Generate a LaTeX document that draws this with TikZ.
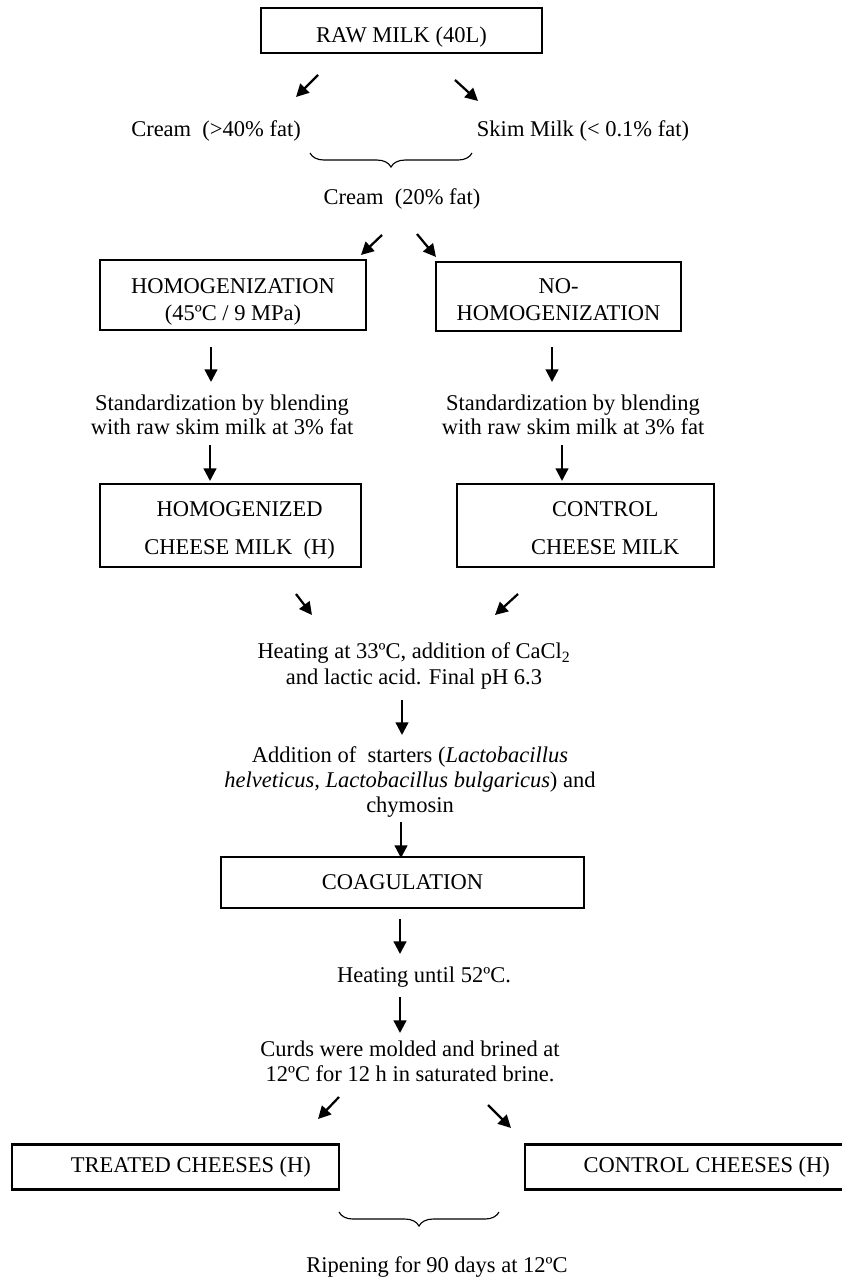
\documentclass[tikz,border=0pt]{standalone}
\usepackage{fontspec}
\setmainfont{Liberation Serif}
\usetikzlibrary{arrows.meta,decorations.pathreplacing}

\begin{document}
\begin{tikzpicture}[x=0.025cm, y=-0.025cm, font=\fontsize{16}{19}\selectfont,
  box/.style={draw, line width=1.6pt, align=center, inner sep=0pt},
  arr/.style={-{Triangle[length=9pt,width=9pt]}, line width=1.6pt},
  brc/.style={decorate, decoration={brace, mirror, amplitude=10pt}, line width=0.8pt}]
  \useasboundingbox (0,0) rectangle (841,1280);

  % Top: raw milk and separation
  \node (raw) [box, minimum width=7.03cm, minimum height=1.13cm] at (401.5,30.5) {\rule{0pt}{20pt}RAW MILK (40L)};
  \node (cream40) at (216,131) {Cream~~(>40\% fat)};
  \node (skim) at (583,131) {Skim Milk (< 0.1\% fat)};
  \node (cream20) at (402,199) {Cream~~(20\% fat)};

  % Homogenization branches
  \node (homo) [box, minimum width=6.65cm, minimum height=1.75cm] at (233,295) {\rule{0pt}{20pt}HOMOGENIZATION\\(45ºC / 9 MPa)};
  \node (nohomo) [box, minimum width=6.13cm, minimum height=1.73cm] at (558.5,296.5) {\rule{0pt}{15pt}NO-\\HOMOGENIZATION};
  \node (stdh) [align=center] at (222,415) {Standardization by blending\\[-2pt]with raw skim milk at 3\% fat};
  \node (stdc) [align=center] at (573,415) {Standardization by blending\\[-2pt]with raw skim milk at 3\% fat};
  \node (hmilk) [box, minimum width=6.53cm, minimum height=2.08cm] at (230.5,525.5)
    {\rule{0pt}{17pt}\hspace*{13pt}HOMOGENIZED\\[8pt]\hspace*{13pt}CHEESE MILK~~(H)};
  \node (cmilk) [box, minimum width=6.43cm, minimum height=2.08cm] at (585.5,525.5)
    {\rule{0pt}{15pt}\hspace*{28pt}CONTROL\\[8pt]\hspace*{28pt}CHEESE MILK};

  % Cheese making
  \node (heat) [align=center] at (414,666) {Heating at 33ºC, addition of CaCl\textsubscript{2}\\[-1pt]and lactic acid. Final pH 6.3};
  \node (starters) [align=center] at (410,782) {Addition of~~starters (\textit{Lactobacillus}\\[-1.5pt]\textit{helveticus, Lactobacillus bulgaricus}) and\\[-1.5pt]chymosin};
  \node (coag) [box, minimum width=9.08cm, minimum height=1.28cm] at (402.5,882.5) {COAGULATION};
  \node (heat52) at (424,977) {Heating until 52ºC.};
  \node (curds) [align=center] at (410,1061) {Curds were molded and brined at\\[-1pt]12ºC for 12 h in saturated brine.};
  \node (treated) [box, minimum width=8.18cm, minimum height=1.13cm] at (175.5,1167) {\hspace*{22pt}TREATED CHEESES (H)};
  \node (control) [box, minimum width=8.0cm, minimum height=1.13cm] at (685,1167) {\hspace*{31pt}CONTROL CHEESES (H)};
  \node (ripen) at (437,1267) {Ripening for 90 days at 12ºC};

  % arrow ends
  \coordinate (s1) at (318,75);   \coordinate (e1) at (296,97);
  \coordinate (s2) at (455,80);   \coordinate (e2) at (478,101);
  \coordinate (s3) at (382,235);  \coordinate (e3) at (361,255);
  \coordinate (s4) at (417,234);  \coordinate (e4) at (436,257);
  \coordinate (s5) at (211,347);  \coordinate (e5) at (211,382);
  \coordinate (s6) at (552,347);  \coordinate (e6) at (552,382);
  \coordinate (s7) at (210,445);  \coordinate (e7) at (210,481);
  \coordinate (s8) at (562,445);  \coordinate (e8) at (562,481);
  \coordinate (s9) at (296,594);  \coordinate (e9) at (312,615);
  \coordinate (s10) at (518,594); \coordinate (e10) at (495,615);
  \coordinate (s11) at (402,700); \coordinate (e11) at (402,735);
  \coordinate (s12) at (401,822); \coordinate (e12) at (401,858);
  \coordinate (s13) at (400,919); \coordinate (e13) at (400,954);
  \coordinate (s14) at (400,997); \coordinate (e14) at (400,1033);
  \coordinate (s15) at (339,1097); \coordinate (e15) at (318,1119);
  \coordinate (s16) at (488,1105); \coordinate (e16) at (511,1128);

  % Arrows
  \draw[arr] (s1) -- (e1);
  \draw[arr] (s2) -- (e2);
  \draw[arr] (s3) -- (e3);
  \draw[arr] (s4) -- (e4);
  \draw[arr] (s5) -- (e5);
  \draw[arr] (s6) -- (e6);
  \draw[arr] (s7) -- (e7);
  \draw[arr] (s8) -- (e8);
  \draw[arr] (s9) -- (e9);
  \draw[arr] (s10) -- (e10);
  \draw[arr] (s11) -- (e11);
  \draw[arr] (s12) -- (e12);
  \draw[arr] (s13) -- (e13);
  \draw[arr] (s14) -- (e14);
  \draw[arr] (s15) -- (e15);
  \draw[arr] (s16) -- (e16);

  % Braces joining the two streams
  \coordinate (b1l) at (310,153); \coordinate (b1r) at (472,153);
  \coordinate (b2l) at (339,1212); \coordinate (b2r) at (499,1212);
  \draw[brc] (b1l) -- (b1r);
  \draw[brc] (b2l) -- (b2r);
\end{tikzpicture}
\end{document}
